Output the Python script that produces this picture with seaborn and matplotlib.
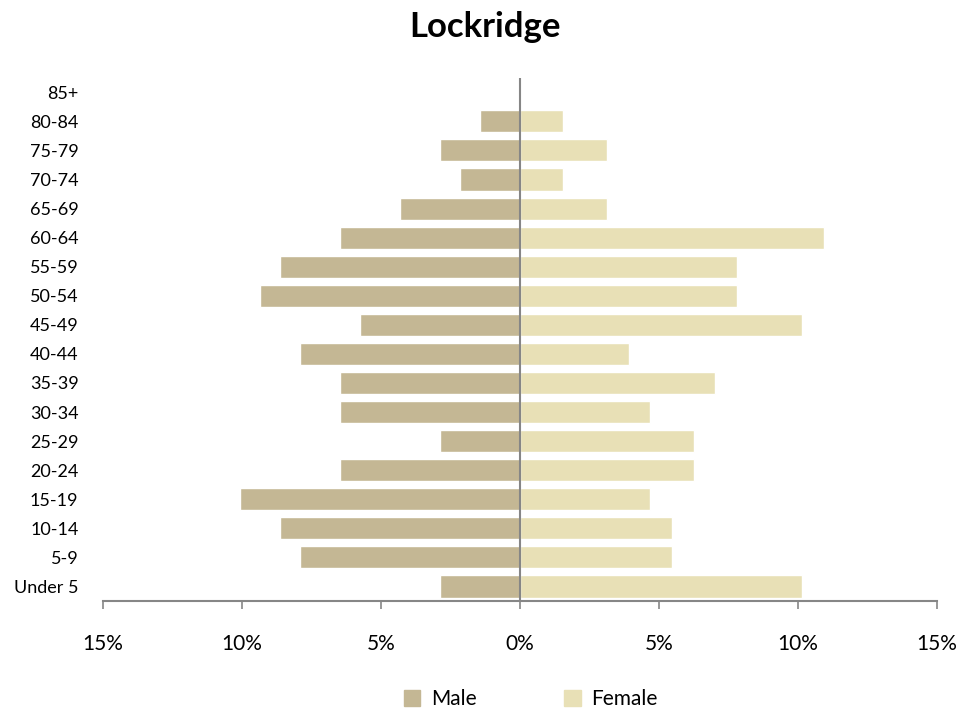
import pandas as pd
import seaborn as sns
import matplotlib.pyplot as plt
from matplotlib.ticker import FuncFormatter
from matplotlib.patches import Patch

age_groups = ['85+', '80-84', '75-79', '70-74', '65-69', '60-64', '55-59', '50-54',
              '45-49', '40-44', '35-39', '30-34', '25-29', '20-24', '15-19', '10-14',
              '5-9', 'Under 5']
male_pct = [0.0, 1.44, 2.88, 2.16, 4.32, 6.47, 8.63, 9.35, 5.76, 7.91, 6.47, 6.47,
            2.88, 6.47, 10.07, 8.63, 7.91, 2.88]
female_pct = [0.0, 1.56, 3.13, 1.56, 3.13, 10.94, 7.81, 7.81, 10.16, 3.91, 7.03, 4.69,
              6.25, 6.25, 4.69, 5.47, 5.47, 10.16]

male_color = '#C4B794'
female_color = '#E8E0B6'

df = pd.DataFrame({
    'Age': age_groups * 2,
    'Pct': [-v for v in male_pct] + female_pct,
    'Sex': ['Male'] * len(age_groups) + ['Female'] * len(age_groups),
})

sns.set_style('white')
plt.rcParams['font.family'] = ['Lato', 'DejaVu Sans']
plt.rcParams['text.color'] = 'black'
plt.rcParams['xtick.labelcolor'] = 'black'
plt.rcParams['ytick.labelcolor'] = 'black'

fig = plt.figure(figsize=(9.79, 7.13), dpi=100)
ax = fig.add_axes([0.105, 0.157, 0.852, 0.734])

sns.barplot(data=df, x='Pct', y='Age', hue='Sex', order=age_groups, dodge=False,
            palette={'Male': male_color, 'Female': female_color}, saturation=1,
            width=0.76, orient='h', legend=False, ax=ax)

ax.set_xlim(-15, 15)
ax.set_xticks([-15, -10, -5, 0, 5, 10, 15])
ax.xaxis.set_major_formatter(FuncFormatter(lambda v, p: f'{abs(int(round(v)))}%'))
ax.axvline(0, color='#868686', lw=1.5, zorder=5)

for s in ['top', 'right', 'left']:
    ax.spines[s].set_visible(False)
ax.spines['bottom'].set_color('#868686')
ax.spines['bottom'].set_linewidth(1.5)

ax.tick_params(axis='x', bottom=True, direction='out', length=6, width=1.2,
               color='#868686', pad=18, labelsize=15)
ax.tick_params(axis='y', left=False, pad=14, labelsize=13)
ax.set_xlabel('')
ax.set_ylabel('')

fig.suptitle('Lockridge', x=0.495, y=0.985, va='top', fontsize=25, fontweight='bold')

handles = [Patch(color=male_color, label='Male'), Patch(color=female_color, label='Female')]
fig.legend(handles=handles, loc='lower center', bbox_to_anchor=(0.542, -0.021), ncol=2,
           frameon=False, fontsize=15, handlelength=0.8, handleheight=0.8,
           columnspacing=4.2, handletextpad=0.5)

plt.savefig('out.png', dpi=100)
